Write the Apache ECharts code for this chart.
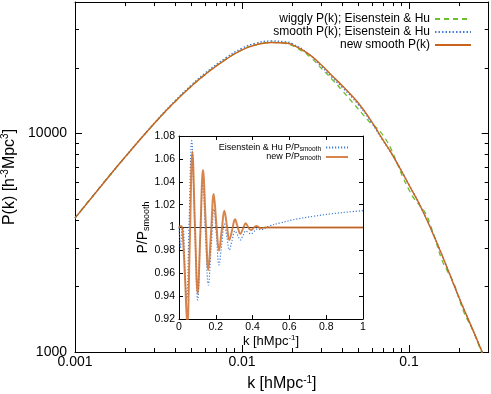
<!DOCTYPE html>
<html>
<head>
<meta charset="utf-8">
<script src="https://cdn.jsdelivr.net/npm/echarts@6/dist/echarts.min.js"></script>
<style>
    html, body { margin: 0; padding: 0; background: #fff; }
    #main { width: 491px; height: 394px; }
</style>
</head>
<body>
<div id="main"></div>
<script>
    // main panel: P(k) on log-log axes
    var kMain = [0.001, 0.0015, 0.002, 0.003, 0.004, 0.005, 0.006, 0.008, 0.01, 0.012, 0.015, 0.018, 0.02,
        0.025, 0.03, 0.035, 0.04, 0.05, 0.06, 0.07, 0.08, 0.1, 0.12, 0.15, 0.2, 0.25, 0.3];
    var pNewSmooth = [4100, 6003, 7824, 11177, 14069, 16520, 18598, 21851, 24159, 25425, 26114, 25971, 25483,
        23170, 20530, 18240, 16490, 13730, 11265, 9320, 7925, 5814, 4470, 3043, 1764, 1182, 849];
    var pEHSmooth = [4100, 6003, 7824, 11200, 14180, 16720, 18850, 22180, 24550, 25850, 26500, 26300, 25750,
        23170, 20250, 17950, 16230, 13520, 11150, 9260, 7925, 5814, 4470, 3043, 1764, 1182, 849];
    var kWiggly = [0.001, 0.002, 0.004, 0.006, 0.008, 0.01, 0.012, 0.015, 0.018, 0.022, 0.026, 0.03, 0.035,
        0.04, 0.046, 0.052, 0.058, 0.063, 0.067, 0.072, 0.078, 0.085, 0.092, 0.1, 0.108, 0.116, 0.125, 0.134,
        0.145, 0.158, 0.17, 0.185, 0.2, 0.214, 0.23, 0.245, 0.26, 0.272, 0.3];
    var pWiggly = [4100, 7824, 14069, 18598, 21851, 24159, 25425, 26114, 25840, 24295, 22130, 19810, 17545,
        15665, 13850, 12435, 11290, 10715, 10230, 9500, 8505, 7285, 6300, 5525, 4995, 4695, 4335, 3825,
        3195, 2620, 2340, 2075, 1740, 1510, 1350, 1230, 1090, 995, 845];

    var xMajorTicks = [0.001, 0.01, 0.1];
    var xMinorTicks = [0.002, 0.003, 0.004, 0.005, 0.006, 0.007, 0.008, 0.009, 0.02, 0.03, 0.04, 0.05, 0.06,
        0.07, 0.08, 0.09, 0.2, 0.3];
    var yMajorTicks = [1000, 10000];
    var yMinorTicks = [2000, 3000, 4000, 5000, 6000, 7000, 8000, 9000, 20000, 30000, 40000];

    // inset: P/Psmooth
    var kRatioEH = [0, 0.004, 0.008, 0.016, 0.022, 0.031, 0.0417, 0.055, 0.0688, 0.085, 0.1015, 0.115, 0.1286,
        0.144, 0.1594, 0.175, 0.1902, 0.204, 0.2174, 0.232, 0.2464, 0.26, 0.2736, 0.289, 0.3043, 0.319, 0.3333,
        0.348, 0.3623, 0.377, 0.3913, 0.407, 0.422, 0.434, 0.446, 0.47, 0.49, 0.55, 0.64, 0.73, 0.82, 0.91, 1.0];
    var ratioEH = [1.0, 0.99, 0.982, 0.998, 1.0, 0.968, 0.9367, 1.006, 1.0759, 1.006, 0.9367, 0.988, 1.0387,
        0.994, 0.9498, 0.983, 1.0159, 0.9916, 0.9673, 0.985, 1.0031, 0.992, 0.9804, 0.989, 0.997, 0.993, 0.9891,
        0.993, 0.9969, 0.9956, 0.9944, 0.9965, 0.9986, 0.9985, 0.998, 0.9995, 1.0013, 1.004, 1.0074, 1.0098,
        1.0118, 1.0134, 1.0147];
    var kRatioNew = [0, 0.007, 0.0145, 0.022, 0.033, 0.045, 0.059, 0.0725, 0.087, 0.1015, 0.116, 0.1304, 0.145,
        0.1594, 0.174, 0.1884, 0.203, 0.2174, 0.232, 0.2464, 0.26, 0.2736, 0.289, 0.3043, 0.318, 0.3333, 0.348,
        0.3623, 0.377, 0.3913, 0.407, 0.422, 0.434, 0.446, 0.47, 0.6, 1.0];
    var ratioNew = [1.0, 1.001, 1.001, 0.99, 0.955, 0.915, 0.99, 1.0663, 1.0, 0.9425, 0.995, 1.0503, 1.005,
        0.9629, 0.995, 1.0293, 1.003, 0.9798, 0.997, 1.0147, 1.002, 0.9891, 0.998, 1.0072, 1.001, 0.9944, 0.999,
        1.0037, 1.0, 0.9978, 1.0, 1.0013, 1.0, 0.9994, 1.0, 1.0, 1.0];
    var refK = [0, 1];
    var refRatio = [1, 1];

    var FONT = '"Liberation Sans", Arial, sans-serif';

    function pairs(xs, ys) {
        var out = [];
        for (var i = 0; i < xs.length; i++) {
            out.push([xs[i], ys[i]]);
        }
        return out;
    }

    function fmtNum(v) {
        return String(Number(Number(v).toPrecision(4)));
    }

    // one log axis of the main frame; minor=true gives the short unlabelled ticks
    function mainAxis(kind, pos, min, max, ticks, minor, labelled) {
        var ax = {
            type: 'log',
            logBase: 10,
            gridIndex: 0,
            position: pos,
            min: min,
            max: max,
            splitLine: {show: false},
            axisLine: {show: !minor, onZero: false, lineStyle: {color: '#000', width: 1}},
            axisTick: {show: true, inside: true, length: minor ? 4 : 7, customValues: ticks,
                lineStyle: {color: '#000', width: 1}},
            axisLabel: {show: false}
        };
        if (labelled) {
            ax.axisLabel = {
                show: true, customValues: ticks, formatter: fmtNum,
                fontSize: 14, fontFamily: FONT, color: '#000',
                margin: kind === 'x' ? 3 : 8
            };
        }
        return ax;
    }

    function insetAxis(kind, pos, labelled) {
        var ax = {
            type: 'value',
            gridIndex: 1,
            position: pos,
            min: kind === 'x' ? 0 : 0.92,
            max: kind === 'x' ? 1 : 1.08,
            interval: kind === 'x' ? 0.2 : 0.02,
            splitLine: {show: false},
            axisLine: {show: true, onZero: false, lineStyle: {color: '#000', width: 1}},
            axisTick: {show: true, inside: true, length: 4, lineStyle: {color: '#000'}},
            axisLabel: {show: labelled, formatter: fmtNum, fontSize: 10.5, fontFamily: FONT,
                color: '#000', margin: kind === 'x' ? 3 : 4}
        };
        return ax;
    }

    var xAxes = [
        mainAxis('x', 'bottom', 0.001, 0.3, xMajorTicks, false, true),
        mainAxis('x', 'bottom', 0.001, 0.3, xMinorTicks, true, false),
        mainAxis('x', 'top', 0.001, 0.3, xMajorTicks, false, false),
        mainAxis('x', 'top', 0.001, 0.3, xMinorTicks, true, false),
        insetAxis('x', 'bottom', true),
        insetAxis('x', 'top', false)
    ];
    xAxes[0].name = '{a|k [hMpc}{s|-1}{a|]}';
    xAxes[0].nameLocation = 'middle';
    xAxes[0].nameGap = 23;
    xAxes[0].nameTextStyle = {
        rich: {
            a: {fontSize: 16, fontFamily: FONT, color: '#000', lineHeight: 18},
            s: {fontSize: 10, fontFamily: FONT, color: '#000', lineHeight: 10, verticalAlign: 'top'}
        }
    };
    xAxes[4].name = '{a|k [hMpc}{s|-1}{a|]}';
    xAxes[4].nameLocation = 'middle';
    xAxes[4].nameGap = 12;
    xAxes[4].nameTextStyle = {
        rich: {
            a: {fontSize: 13, fontFamily: FONT, color: '#000', lineHeight: 15},
            s: {fontSize: 8, fontFamily: FONT, color: '#000', lineHeight: 8, verticalAlign: 'top'}
        }
    };

    var yAxes = [
        mainAxis('y', 'left', 1000, 40000, yMajorTicks, false, true),
        mainAxis('y', 'left', 1000, 40000, yMinorTicks, true, false),
        mainAxis('y', 'right', 1000, 40000, yMajorTicks, false, false),
        mainAxis('y', 'right', 1000, 40000, yMinorTicks, true, false),
        insetAxis('y', 'left', true),
        insetAxis('y', 'right', false)
    ];
    yAxes[0].name = '{a|P(k) [h}{s|-3}{a|Mpc}{s|3}{a|]}';
    yAxes[0].nameLocation = 'middle';
    yAxes[0].nameGap = 54;
    yAxes[0].nameTextStyle = {
        rich: {
            a: {fontSize: 16, fontFamily: FONT, color: '#000', lineHeight: 18},
            s: {fontSize: 10, fontFamily: FONT, color: '#000', lineHeight: 10, verticalAlign: 'top'}
        }
    };
    yAxes[4].name = '{a|P/P}{b|smooth}';
    yAxes[4].nameLocation = 'middle';
    yAxes[4].nameGap = 28;
    yAxes[4].nameTextStyle = {
        rich: {
            a: {fontSize: 14, fontFamily: FONT, color: '#000', lineHeight: 16},
            b: {fontSize: 9, fontFamily: FONT, color: '#000', lineHeight: 9, verticalAlign: 'bottom'}
        }
    };

    var GREEN = '#6cbf2a', BLUE = '#3f7fd9', ORANGE = '#c8641e', ORANGE_INSET = 'rgba(208,112,45,0.85)';

    var chart = echarts.init(document.getElementById('main'), null, {renderer: 'canvas'});
    chart.setOption({
        animation: false,
        backgroundColor: '#fff',
        textStyle: {fontFamily: FONT},
        grid: [
            {left: 75, right: 2.3, top: 2, bottom: 42, containLabel: false, outerBoundsMode: 'none'},
            {left: 179, top: 136, width: 184, height: 183, show: true, backgroundColor: '#fff', borderWidth: 0,
                containLabel: false, outerBoundsMode: 'none'}
        ],
        legend: [{
            data: ['wiggly P(k); Eisenstein & Hu', 'smooth P(k); Eisenstein & Hu', 'new smooth P(k)'],
            orient: 'vertical',
            align: 'right',
            right: 14,
            top: 8,
            itemWidth: 36,
            itemHeight: 10,
            itemGap: 1,
            itemStyle: {opacity: 0},
            textStyle: {fontSize: 12, fontFamily: FONT, color: '#000', lineHeight: 12}
        }, {
            data: ['Eisenstein & Hu P/Psmooth', 'new P/Psmooth'],
            orient: 'vertical',
            align: 'right',
            right: 137,
            top: 138,
            itemWidth: 22,
            itemHeight: 8,
            itemGap: 0,
            itemStyle: {opacity: 0},
            formatter: function (name) {
                return name === 'new P/Psmooth' ? '{t|new P/P}{s|smooth}' : '{t|Eisenstein & Hu P/P}{s|smooth}';
            },
            textStyle: {
                color: '#000',
                rich: {
                    t: {fontSize: 9, fontFamily: FONT, color: '#000', lineHeight: 10},
                    s: {fontSize: 6.5, fontFamily: FONT, color: '#000', lineHeight: 7, verticalAlign: 'bottom'}
                }
            }
        }],
        xAxis: xAxes,
        yAxis: yAxes,
        series: [
            {
                name: 'wiggly P(k); Eisenstein & Hu', type: 'line', xAxisIndex: 0, yAxisIndex: 0,
                data: pairs(kWiggly, pWiggly), symbol: 'none', smooth: 0.5,
                lineStyle: {color: GREEN, width: 1.3, type: [5, 4]}, itemStyle: {color: GREEN}
            },
            {
                name: 'smooth P(k); Eisenstein & Hu', type: 'line', xAxisIndex: 0, yAxisIndex: 0,
                data: pairs(kMain, pEHSmooth), symbol: 'none', smooth: 0.5,
                lineStyle: {color: BLUE, width: 1.5, type: [1.5, 2]}, itemStyle: {color: BLUE}
            },
            {
                name: 'new smooth P(k)', type: 'line', xAxisIndex: 0, yAxisIndex: 0,
                data: pairs(kMain, pNewSmooth), symbol: 'none', smooth: 0.5,
                lineStyle: {color: ORANGE, width: 1.4}, itemStyle: {color: ORANGE}
            },
            {
                name: 'ref', type: 'line', xAxisIndex: 4, yAxisIndex: 4,
                data: pairs(refK, refRatio), symbol: 'none',
                lineStyle: {color: '#000', width: 0.8}
            },
            {
                name: 'Eisenstein & Hu P/Psmooth', type: 'line', xAxisIndex: 4, yAxisIndex: 4,
                data: pairs(kRatioEH, ratioEH), symbol: 'none', smooth: 0.4,
                lineStyle: {color: BLUE, width: 1.2, type: [1.2, 1.8]}, itemStyle: {color: BLUE}
            },
            {
                name: 'new P/Psmooth', type: 'line', xAxisIndex: 4, yAxisIndex: 4,
                data: pairs(kRatioNew, ratioNew), symbol: 'none', smooth: 0.4,
                lineStyle: {color: ORANGE_INSET, width: 2}, itemStyle: {color: ORANGE_INSET}
            }
        ]
    });
</script>
</body>
</html>
